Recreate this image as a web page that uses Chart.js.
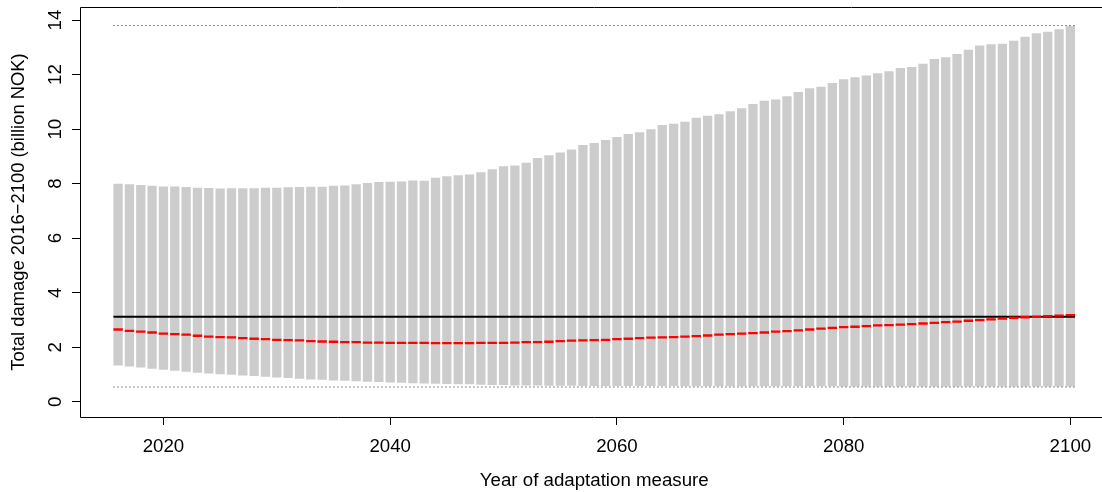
<!DOCTYPE html>
<html><head><meta charset="utf-8">
<script src="https://cdn.jsdelivr.net/npm/chart.js@4/dist/chart.umd.min.js"></script>
<style>
html,body{margin:0;padding:0;background:#fff;overflow:hidden;width:1102px;height:492px}
#wrap{position:relative;width:1102px;height:492px;overflow:hidden}
#c{position:absolute;left:0;top:0;display:block}
</style>
</head><body>
<div id="wrap"><canvas id="c" width="1120" height="492" style="width:1120px;height:492px"></canvas></div>
<script>
const years = [
  2016,2017,2018,2019,2020,2021,2022,2023,2024,2025,
  2026,2027,2028,2029,2030,2031,2032,2033,2034,2035,
  2036,2037,2038,2039,2040,2041,2042,2043,2044,2045,
  2046,2047,2048,2049,2050,2051,2052,2053,2054,2055,
  2056,2057,2058,2059,2060,2061,2062,2063,2064,2065,
  2066,2067,2068,2069,2070,2071,2072,2073,2074,2075,
  2076,2077,2078,2079,2080,2081,2082,2083,2084,2085,
  2086,2087,2088,2089,2090,2091,2092,2093,2094,2095,
  2096,2097,2098,2099,2100];
const upperDamage = [
  8.00,7.98,7.95,7.92,7.90,7.90,7.88,7.85,7.84,7.82,
  7.83,7.83,7.83,7.85,7.85,7.87,7.88,7.89,7.89,7.92,
  7.93,7.98,8.02,8.06,8.07,8.08,8.12,8.11,8.22,8.27,
  8.31,8.34,8.42,8.53,8.64,8.67,8.77,8.94,9.04,9.14,
  9.25,9.42,9.49,9.60,9.71,9.82,9.89,10.00,10.15,10.20,
  10.27,10.42,10.49,10.55,10.66,10.77,10.92,11.04,11.09,11.21,
  11.36,11.50,11.55,11.69,11.83,11.90,11.97,12.05,12.12,12.24,
  12.28,12.40,12.57,12.64,12.76,12.91,13.07,13.11,13.13,13.24,
  13.39,13.52,13.57,13.66,13.78];
const lowerDamage = [
  1.33,1.29,1.26,1.21,1.17,1.14,1.10,1.06,1.04,1.01,
  0.99,0.96,0.94,0.92,0.89,0.87,0.84,0.82,0.81,0.78,
  0.77,0.75,0.73,0.72,0.71,0.70,0.68,0.67,0.66,0.65,
  0.64,0.64,0.62,0.61,0.61,0.60,0.60,0.60,0.59,0.59,
  0.59,0.58,0.58,0.58,0.58,0.58,0.58,0.58,0.58,0.58,
  0.57,0.57,0.57,0.57,0.57,0.57,0.57,0.57,0.57,0.57,
  0.57,0.57,0.57,0.57,0.56,0.56,0.56,0.56,0.56,0.56,
  0.56,0.56,0.56,0.56,0.56,0.56,0.56,0.56,0.56,0.56,
  0.56,0.56,0.56,0.56,0.56];
const meanDamage = [
  2.65,2.60,2.57,2.54,2.50,2.48,2.46,2.42,2.39,2.37,
  2.36,2.33,2.31,2.30,2.27,2.26,2.25,2.22,2.21,2.20,
  2.19,2.19,2.17,2.17,2.16,2.16,2.16,2.16,2.15,2.15,
  2.15,2.15,2.16,2.16,2.16,2.17,2.19,2.19,2.20,2.22,
  2.24,2.25,2.26,2.27,2.30,2.31,2.33,2.35,2.36,2.37,
  2.39,2.41,2.43,2.46,2.48,2.50,2.52,2.54,2.57,2.59,
  2.62,2.65,2.68,2.71,2.74,2.75,2.77,2.80,2.81,2.83,
  2.85,2.87,2.89,2.92,2.94,2.97,2.99,3.02,3.05,3.08,
  3.10,3.11,3.14,3.16,3.18];
const referenceDamage = 3.12;
const overallMax = 13.80;
const overallMin = 0.54;
const xTicks = [2020, 2040, 2060, 2080, 2100];
const yTicks = [0, 2, 4, 6, 8, 10, 12, 14];

const BAR_FRAC = 0.82;
const xStart = years[0] - BAR_FRAC / 2;
const xEnd = years[years.length - 1] + BAR_FRAC / 2;
const span = years[years.length - 1] - years[0];
const xMin = years[0] - 0.04 * span, xMax = years[years.length - 1] + 0.04 * span;

Chart.defaults.font.family = "'Liberation Sans', Arial, Helvetica, sans-serif";
Chart.defaults.font.size = 18.7;
Chart.defaults.color = '#000';

// plot frame: top, left and bottom sides (the right side lies beyond the visible page)
const boxPlugin = {
  id: 'box',
  afterDraw(chart) {
    const a = chart.chartArea, ctx = chart.ctx;
    const l = Math.round(a.left) + 0.5, t = Math.round(a.top) + 0.5, b = Math.round(a.bottom) + 0.5;
    const r = a.right;
    ctx.save();
    ctx.strokeStyle = '#000';
    ctx.lineWidth = 1;
    ctx.beginPath();
    ctx.moveTo(r, t); ctx.lineTo(l, t); ctx.lineTo(l, b); ctx.lineTo(r, b);
    ctx.stroke();
    ctx.restore();
  }
};

const hline = (v) => [{x: xStart, y: v}, {x: xEnd, y: v}];

new Chart(document.getElementById('c'), {
  type: 'bar',
  data: {
    datasets: [
      {
        type: 'line', label: 'max', data: hline(overallMax),
        borderColor: '#222', borderWidth: 1, borderDash: [1, 3], pointRadius: 0, order: 1
      },
      {
        type: 'line', label: 'min', data: hline(overallMin),
        borderColor: '#222', borderWidth: 1, borderDash: [1, 3], pointRadius: 0, order: 1
      },
      {
        type: 'bar', label: 'range',
        data: years.map((y, i) => ({x: y, y: [lowerDamage[i], upperDamage[i]]})),
        backgroundColor: '#cccccc', borderWidth: 0,
        categoryPercentage: 1, barPercentage: BAR_FRAC, order: 3
      },
      {
        type: 'line', label: 'reference', data: hline(referenceDamage),
        borderColor: '#000', borderWidth: 2, pointRadius: 0, order: 2
      },
      {
        type: 'line', label: 'mean',
        data: years.map((y, i) => ({x: y, y: meanDamage[i]})),
        showLine: false, pointStyle: 'line', pointRadius: 4.7, pointHoverRadius: 4.7,
        pointBorderColor: '#ff0000', pointBorderWidth: 2.3, borderColor: '#ff0000', order: 0
      }
    ]
  },
  options: {
    responsive: false,
    animation: false,
    events: [],
    layout: {padding: {left: 0, top: 6, right: 11.5, bottom: 0}},
    plugins: {legend: {display: false}, tooltip: {enabled: false}},
    scales: {
      x: {
        type: 'linear', min: xMin, max: xMax, offset: false,
        afterBuildTicks: (s) => { s.ticks = xTicks.map(v => ({value: v})); },
        afterFit: (s) => { s.height = 75; s.paddingLeft = 0; s.paddingRight = 0; },
        grid: {display: true, drawOnChartArea: false, drawTicks: true, tickLength: 8, tickColor: '#000', offset: false},
        border: {display: false},
        ticks: {padding: 11, maxRotation: 0, autoSkip: false, callback: (v) => String(v)},
        title: {display: true, text: 'Year of adaptation measure', font: {size: 18.7, lineHeight: 1}, padding: {top: 0, bottom: 2}}
      },
      y: {
        type: 'linear', min: -0.56, max: 14.48,
        afterBuildTicks: (s) => { s.ticks = yTicks.map(v => ({value: v})); },
        afterFit: (s) => { s.width = 80; s.paddingTop = 0; s.paddingBottom = 0; },
        grid: {display: true, drawOnChartArea: false, drawTicks: true, tickLength: 8, tickColor: '#000'},
        border: {display: false},
        ticks: {padding: 6, minRotation: 90, maxRotation: 90, crossAlign: 'center', autoSkip: false, callback: (v) => String(v)},
        title: {display: true, text: 'Total damage 2016\u22122100 (billion NOK)', font: {size: 18.4, lineHeight: 1}, padding: {top: 10, bottom: 0}}
      }
    }
  },
  plugins: [boxPlugin]
});
</script>
</body></html>
